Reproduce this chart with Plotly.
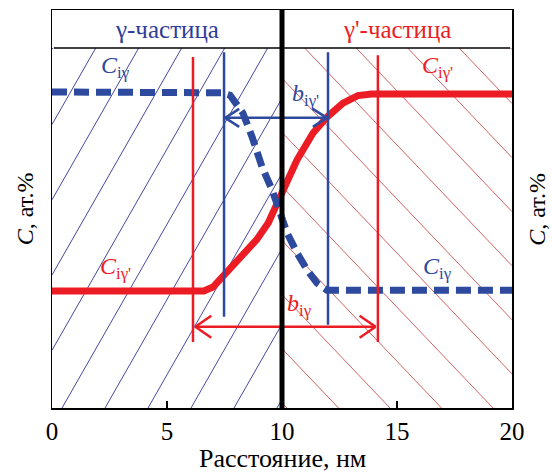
import plotly.graph_objects as go

# ---------------- data ----------------
x_ticks = [0, 5, 10, 15, 20]
x_tick_labels = ["0", "5", "10", "15", "20"]

# C_iγ profile (blue, dashed)
blue_x = [0, 6.9, 7.4, 7.74, 8.3, 8.7, 9.13, 9.57, 9.91, 10.22, 10.65, 11.09, 11.52, 11.96, 20]
blue_y = [79.4, 79.4, 79.2, 78.6, 74.1, 68.1, 60.6, 54.8, 49.0, 44.0, 39.0, 34.7, 31.4, 29.6, 29.6]

# C_iγ' profile (red, solid)
red_x = [0, 6.6, 7.0, 7.6, 8.3, 8.9, 9.4, 9.9, 10.3, 10.65, 11.35, 11.96, 12.65, 13.3, 13.9, 20]
red_y = [29.4, 29.4, 30.4, 34.2, 38.9, 42.3, 46.5, 53.0, 57.5, 62.3, 69.1, 73.1, 76.6, 78.5, 78.9, 78.9]

# width boundaries
blue_bounds_x = [7.48, 12.0]
blue_bounds_top = [89.4, 89.4]
blue_bounds_bottom = [22.9, 20.9]
blue_arrow_y = 72.9

red_bounds_x = [6.13, 14.17]
red_bounds_top = [88.2, 88.6]
red_bounds_bottom = [16.6, 16.6]
red_arrow_y = 20.4

interface_x = 10
header_y = 90.45

header_texts = ["γ-частица", "γ'-частица"]
header_x = [5, 15]
header_yv = 95.2

label_texts = ["<i>C</i><sub>iγ</sub>", "<i>C</i><sub>iγ'</sub>", "<i>C</i><sub>iγ'</sub>",
               "<i>C</i><sub>iγ</sub>", "<i>b</i><sub>iγ'</sub>", "<i>b</i><sub>iγ</sub>"]
label_x = [2.74, 16.74, 2.74, 16.78, 11.0, 10.78]
label_y = [85.7, 85.7, 35.2, 35.2, 78.6, 25.9]
label_colors = ["blue", "red", "red", "blue", "blue", "red"]

x_title = "Расстояние, нм"
y_title = "<i>C</i>, ат.%"

# ---------------- styling ----------------
BLUE = "#2D4A9E"
RED = "#EC1C24"
TXT_BLUE = "#2E3D98"
FONT = "Liberation Serif"
colmap = {"blue": BLUE, "red": RED}

fig = go.Figure()

# pixel -> data conversions (plot area 460 x 398 px)
PX_X = 20 / 460.0
PX_Y = 100 / 398.0

shapes = []

def clip_line(x0, slope, xmin, xmax, ymin, ymax):
    # line x = x0 + y/slope
    ya = (xmin - x0) * slope
    yb = (xmax - x0) * slope
    lo, hi = min(ya, yb), max(ya, yb)
    lo, hi = max(lo, ymin), min(hi, ymax)
    if hi <= lo:
        return None
    return (x0 + lo / slope, lo, x0 + hi / slope, hi)

# blue hatch "/" in left half
s_blue = 1.75 * (460 / 20.0) / (398 / 100.0)
sp_blue = 43 * PX_X
start = (62 - 52) * PX_X
for k in range(-12, 12):
    x0 = start + k * sp_blue
    seg = clip_line(x0, s_blue, 0, interface_x, 0, header_y)
    if seg:
        shapes.append(dict(type="line", x0=seg[0], y0=seg[1], x1=seg[2], y1=seg[3],
                           line=dict(color="#4848A0", width=1), layer="below"))

# red hatch "\" in right half
s_red = -1.05 * (460 / 20.0) / (398 / 100.0)
sp_red = 51.5 * PX_X
start = (287 - 52) * PX_X
for k in range(-12, 14):
    x0 = start + k * sp_red
    seg = clip_line(x0, s_red, interface_x, 20, 0, header_y)
    if seg:
        shapes.append(dict(type="line", x0=seg[0], y0=seg[1], x1=seg[2], y1=seg[3],
                           line=dict(color="#D26262", width=1), layer="below"))

# header separator
shapes.append(dict(type="line", x0=0.08, x1=19.92, y0=header_y, y1=header_y,
                   line=dict(color="black", width=1.5)))

# curves
fig.add_trace(go.Scatter(x=red_x, y=red_y, mode="lines", line=dict(color=RED, width=7),
                         hoverinfo="skip", showlegend=False))
fig.add_trace(go.Scatter(x=blue_x, y=blue_y, mode="lines",
                         line=dict(color=BLUE, width=7, dash="15px,7px"),
                         hoverinfo="skip", showlegend=False))

# boundary verticals
for xv, yt, yb in zip(red_bounds_x, red_bounds_top, red_bounds_bottom):
    shapes.append(dict(type="line", x0=xv, x1=xv, y0=yb, y1=yt, line=dict(color=RED, width=2.5)))
for xv, yt, yb in zip(blue_bounds_x, blue_bounds_top, blue_bounds_bottom):
    shapes.append(dict(type="line", x0=xv, x1=xv, y0=yb, y1=yt, line=dict(color=BLUE, width=2.5)))

def double_arrow(xa, xb, y, color, L, W):
    out = [dict(type="line", x0=xa, x1=xb, y0=y, y1=y, line=dict(color=color, width=2.5))]
    for tip, d in ((xa, 1), (xb, -1)):
        for sgn in (1, -1):
            out.append(dict(type="line", x0=tip, y0=y, x1=tip + d * L * PX_X, y1=y + sgn * W * PX_Y,
                            line=dict(color=color, width=2.5)))
    return out

shapes += double_arrow(blue_bounds_x[0] + 0.05, blue_bounds_x[1] - 0.05, blue_arrow_y, BLUE, 14, 9)
shapes += double_arrow(red_bounds_x[0] + 0.1, red_bounds_x[1] - 0.1, red_arrow_y, RED, 16, 11)

# interface line
shapes.append(dict(type="line", x0=interface_x, x1=interface_x, y0=0, y1=100,
                   line=dict(color="black", width=5)))

annotations = []
for t, xx, c in zip(header_texts, header_x, [TXT_BLUE, RED]):
    annotations.append(dict(x=xx, y=header_yv, text=t, showarrow=False,
                            xanchor="center", yanchor="middle",
                            font=dict(family=FONT, size=25, color=c)))
for t, xx, yy, c in zip(label_texts, label_x, label_y, label_colors):
    annotations.append(dict(x=xx, y=yy, text=t, showarrow=False,
                            xanchor="center", yanchor="middle",
                            font=dict(family=FONT, size=24, color=colmap[c])))
annotations.append(dict(xref="paper", yref="paper", x=0.5, y=-0.128, text=x_title,
                        xanchor="center", yanchor="middle",
                        showarrow=False, font=dict(family=FONT, size=26, color="black")))
for xp in (-0.058, 1.054):
    annotations.append(dict(xref="paper", yref="paper", x=xp, y=0.5, text=y_title, textangle=-90,
                            xanchor="center", yanchor="middle",
                            showarrow=False, font=dict(family=FONT, size=24, color="black")))

fig.update_layout(
    width=552, height=475,
    margin=dict(l=52, r=40, t=10, b=67, autoexpand=False),
    paper_bgcolor="white", plot_bgcolor="white",
    font=dict(family=FONT),
    shapes=shapes, annotations=annotations,
    xaxis=dict(range=[0, 20], tickvals=x_ticks, ticktext=x_tick_labels, ticks="inside", ticklen=7,
               tickwidth=1.2, tickcolor="black", showgrid=False, zeroline=False,
               showline=True, linecolor="black", linewidth=1.5, mirror=True,
               tickfont=dict(family=FONT, size=25, color="black")),
    yaxis=dict(range=[0, 100], showticklabels=False, ticks="", showgrid=False, zeroline=False,
               showline=True, linecolor="black", linewidth=1.5, mirror=True),
    showlegend=False,
)

fig.write_html("out.html", config={"displayModeBar": False, "staticPlot": True},
               post_script="document.body.style.margin='0';document.body.style.overflow='hidden';")
